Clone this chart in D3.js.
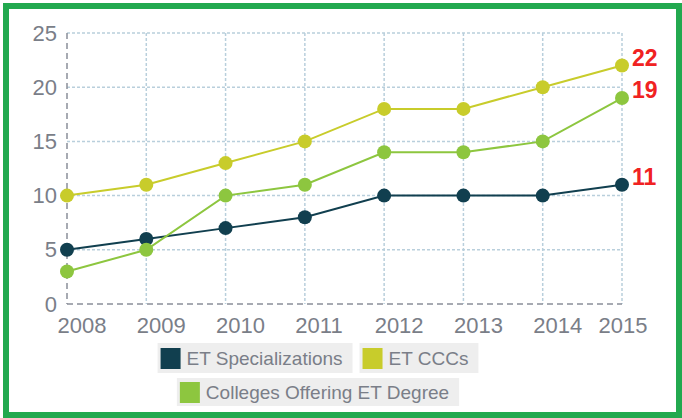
<!DOCTYPE html>
<html>
<head>
<meta charset="utf-8">
<script src="https://cdn.jsdelivr.net/npm/d3@7"></script>
<style>
  body { margin: 0; background: #fff; }
  text { font-family: "Liberation Sans", Arial, sans-serif; }
</style>
</head>
<body>
<div class="chart"></div>
<script>
const years = [2008, 2009, 2010, 2011, 2012, 2013, 2014, 2015];
const specializations = [5, 6, 7, 8, 10, 10, 10, 11];
const cccs = [10, 11, 13, 15, 18, 18, 20, 22];
const colleges = [3, 5, 10, 11, 14, 14, 15, 19];
const yTicks = [0, 5, 10, 15, 20, 25];

const series = [
  { name: "ET Specializations", values: specializations, color: "#113f4f" },
  { name: "ET CCCs", values: cccs, color: "#c8cc2b" },
  { name: "Colleges Offering ET Degree", values: colleges, color: "#8dc63f" }
];

const width = 682;
const height = 418;

const svg = d3.select(".chart").append("svg")
  .attr("width", width)
  .attr("height", height);

// green frame
svg.append("rect")
  .attr("x", 6).attr("y", 6)
  .attr("width", 673).attr("height", 409)
  .attr("fill", "none")
  .attr("stroke", "#22a94f")
  .attr("stroke-width", 6);

const x = d3.scalePoint().domain(years).range([67, 622]);
const y = d3.scaleLinear().domain([0, 25]).range([304, 33]);

// grid
const grid = svg.append("g").attr("class", "grid");
grid.selectAll(".hgrid")
  .data(yTicks.slice(1)).enter()
  .append("line")
    .attr("x1", 67).attr("x2", 622)
    .attr("y1", (d) => y(d)).attr("y2", (d) => y(d))
    .attr("stroke", "#b9cfdc")
    .attr("stroke-width", 1.5)
    .attr("stroke-dasharray", "3,2");
grid.selectAll(".vgrid")
  .data(years.slice(1)).enter()
  .append("line")
    .attr("x1", (d) => x(d)).attr("x2", (d) => x(d))
    .attr("y1", 33).attr("y2", 304)
    .attr("stroke", "#b9cfdc")
    .attr("stroke-width", 1.5)
    .attr("stroke-dasharray", "3,2");

// axis lines (dashed, darker)
svg.append("line")
  .attr("x1", 67).attr("x2", 67).attr("y1", 33).attr("y2", 304)
  .attr("stroke", "#8a8f99").attr("stroke-width", 1.5)
  .attr("stroke-dasharray", "6,4");
svg.append("line")
  .attr("x1", 67).attr("x2", 622).attr("y1", 304).attr("y2", 304)
  .attr("stroke", "#8a8f99").attr("stroke-width", 1.5)
  .attr("stroke-dasharray", "6,4");

// axes
const yAxis = d3.axisLeft(y).tickValues(yTicks).tickSize(0).tickPadding(10);
svg.append("g")
  .attr("transform", "translate(67,0)")
  .call(yAxis)
  .call((g) => g.select(".domain").remove())
  .selectAll("text")
    .attr("fill", "#7a7e88")
    .style("font-size", "22px");

const xAxis = d3.axisBottom(x).tickSize(0).tickPadding(13).tickFormat(d3.format("d"));
svg.append("g")
  .attr("transform", "translate(0,304)")
  .call(xAxis)
  .call((g) => g.select(".domain").remove())
  .selectAll("text")
    .attr("fill", "#7a7e88")
    .style("font-size", "22px")
    .attr("text-anchor", "start")
    .each(function(d) {
      // labels sit slightly right of the tick, last one kept inside the chart
      const w = this.getComputedTextLength();
      const left = Math.min(x(d) - 10, 647 - w);
      d3.select(this).attr("x", left - x(d));
    });

// lines and markers
const line = d3.line()
  .x((d, i) => x(years[i]))
  .y((d) => y(d));

const lines = svg.append("g").attr("class", "series")
  .selectAll(".s")
  .data(series).enter()
  .append("g");

lines.append("path")
  .attr("d", (d) => line(d.values))
  .attr("fill", "none")
  .attr("stroke", (d) => d.color)
  .attr("stroke-width", 2);

lines.selectAll("circle")
  .data((d) => d.values.map((v, i) => ({ v: v, i: i, color: d.color }))).enter()
  .append("circle")
    .attr("cx", (d) => x(years[d.i]))
    .attr("cy", (d) => y(d.v))
    .attr("r", 7)
    .attr("fill", (d) => d.color);

// end labels
svg.append("g")
  .selectAll("text")
  .data(series).enter()
  .append("text")
    .attr("x", x(years[years.length - 1]) + 10)
    .attr("y", (d) => y(d.values[d.values.length - 1]) - 8)
    .attr("dominant-baseline", "central")
    .attr("fill", "#f02222")
    .style("font-size", "23px")
    .style("font-weight", "bold")
    .text((d) => d.values[d.values.length - 1]);

// legend
const rows = [[series[0], series[1]], [series[2]]];
const legend = svg.append("g").attr("class", "legend");
rows.forEach((row, r) => {
  const g = legend.append("g");
  let cx = 0;
  row.forEach((s) => {
    const item = g.append("g").attr("transform", `translate(${cx},0)`);
    const bg = item.append("rect")
      .attr("y", 0).attr("height", r === 0 ? 30 : 28)
      .attr("fill", "#eeeeee");
    item.append("rect")
      .attr("x", 3).attr("y", r === 0 ? 5 : 4)
      .attr("width", 20).attr("height", 21)
      .attr("fill", s.color);
    const t = item.append("text")
      .attr("x", 29).attr("y", r === 0 ? 15 : 14)
      .attr("dominant-baseline", "central")
      .attr("fill", "#7a7e88")
      .style("font-size", "19px")
      .text(s.name);
    const w = 29 + t.node().getComputedTextLength() + 10;
    bg.attr("width", w);
    cx += w + 7;
  });
  const total = cx - 7;
  g.attr("transform", `translate(${318 - total / 2},${r === 0 ? 343 : 378})`);
});
</script>
</body>
</html>
